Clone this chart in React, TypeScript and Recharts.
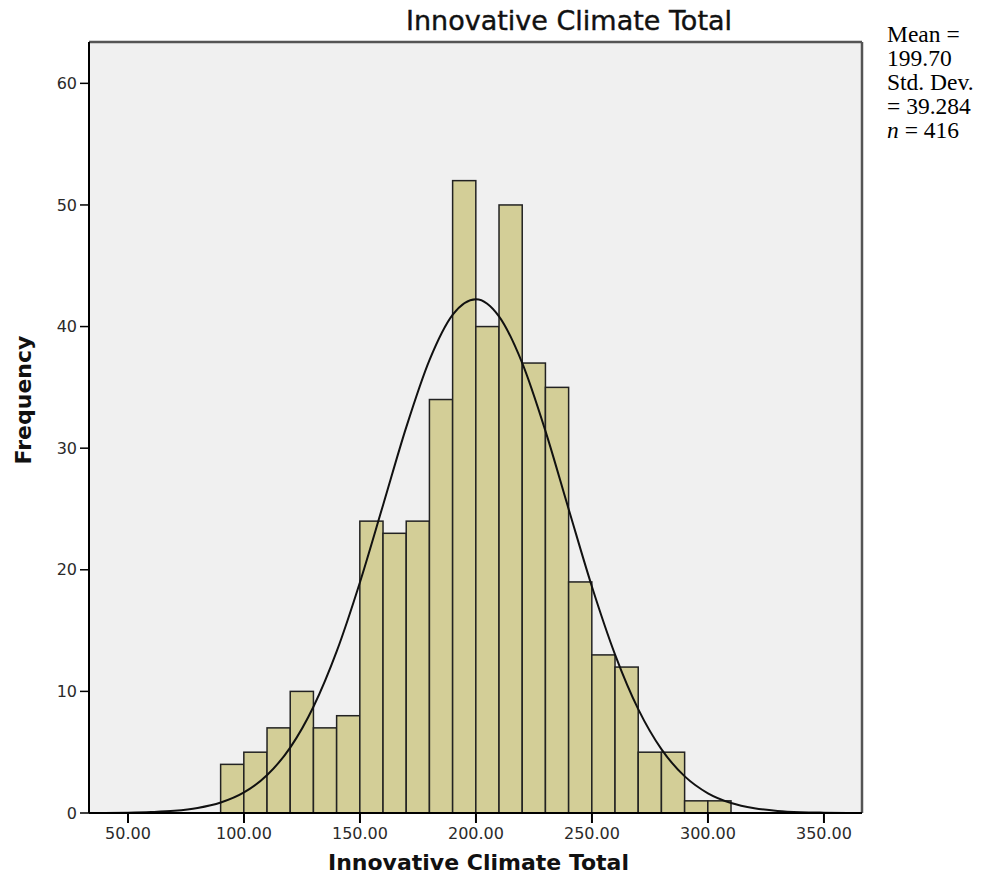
import React from 'react';
import { ComposedChart, Bar, Line, XAxis, YAxis, CartesianGrid, ReferenceLine } from 'recharts';

const binCenters = [95, 105, 115, 125, 135, 145, 155, 165, 175, 185, 195, 205, 215, 225, 235, 245, 255, 265, 275, 285, 295, 305];
const frequencies = [4, 5, 7, 10, 7, 8, 24, 23, 24, 34, 52, 40, 50, 37, 35, 19, 13, 12, 5, 5, 1, 1];
const curveX = [40, 50, 60, 70, 80, 90, 100, 110, 120, 130, 140, 150, 160, 170, 180, 190, 200, 210, 220, 230, 240, 250, 260, 270, 280, 290, 300, 310, 320, 330, 340, 350, 360];
const curveY = [0.01, 0.03, 0.08, 0.18, 0.41, 0.86, 1.69, 3.12, 5.4, 8.76, 13.31, 18.98, 25.35, 31.75, 37.26, 40.98, 42.25, 40.82, 36.97, 31.38, 24.96, 18.61, 13.01, 8.52, 5.23, 3.01, 1.62, 0.82, 0.39, 0.17, 0.07, 0.03, 0.01];
const xTicks = [50, 100, 150, 200, 250, 300, 350];
const yTicks = [0, 10, 20, 30, 40, 50, 60];
const statLines = ['Mean =', '199.70', 'Std. Dev.', '= 39.284'];

const barData = binCenters.map((x, i) => ({ x, freq: frequencies[i] }));
const curveData = curveX.map((x, i) => ({ x, curve: curveY[i] }));

const W = 1000;
const H = 890;
const yAxisW = 50;
const xAxisH = 40;
const margin = { top: 42, right: 138, bottom: 77 - xAxisH, left: 89 - yAxisW };
const xDomain: [number, number] = [33.2, 366.4];
const yDomain: [number, number] = [0, 63.4];
const binWidth = 10;
const plotW = W - 89 - margin.right;
const barPx = (binWidth * plotW) / (xDomain[1] - xDomain[0]);

const tickStyle = { fontFamily: 'DejaVu Sans', fontSize: 16, fill: '#2a2a2a' };

const BinRect = (props: any) => {
  const { x, y, width, height } = props;
  if (height == null || height <= 0) return null;
  const cx = x + width / 2;
  return <rect x={cx - barPx / 2} y={y} width={barPx} height={height} fill="#d3ce97" stroke="#222" strokeWidth={1.5} />;
};

export default function App() {
  return (
    <div style={{ position: 'absolute', left: 0, top: 0, width: W, height: H, background: '#fff' }}>
      <ComposedChart width={W} height={H} data={barData} margin={margin}>
        <CartesianGrid fill="#f0f0f0" horizontal={false} vertical={false} />
        <XAxis
          dataKey="x"
          type="number"
          domain={xDomain}
          ticks={xTicks}
          allowDataOverflow
          height={xAxisH}
          tickSize={10}
          tickMargin={5}
          tickFormatter={(v: number) => v.toFixed(2)}
          tick={tickStyle}
          axisLine={{ stroke: '#000', strokeWidth: 2 }}
          tickLine={{ stroke: '#000', strokeWidth: 2 }}
        />
        <YAxis
          type="number"
          domain={yDomain}
          ticks={yTicks}
          allowDataOverflow
          width={yAxisW}
          tickSize={9}
          tickMargin={3}
          tick={tickStyle}
          axisLine={{ stroke: '#000', strokeWidth: 2 }}
          tickLine={{ stroke: '#000', strokeWidth: 1.5 }}
        />
        <ReferenceLine y={yDomain[1]} stroke="#555" strokeWidth={2.5} ifOverflow="visible" />
        <ReferenceLine x={xDomain[1]} stroke="#555" strokeWidth={2.5} ifOverflow="visible" />
        <Bar dataKey="freq" shape={BinRect} isAnimationActive={false} />
        <Line data={curveData} dataKey="curve" type="monotone" stroke="#111" strokeWidth={2} dot={false} isAnimationActive={false} />
      </ComposedChart>
      <div style={{ position: 'absolute', left: 403, top: 5, width: 332, textAlign: 'center', fontFamily: 'DejaVu Sans', fontSize: 27, color: '#111', whiteSpace: 'nowrap', WebkitTextStroke: '0.4px #111' }}>
        Innovative Climate Total
      </div>
      <div style={{ position: 'absolute', left: 320, top: 850, width: 317, textAlign: 'center', fontFamily: 'DejaVu Sans', fontWeight: 'bold', fontSize: 22, color: '#111', whiteSpace: 'nowrap' }}>
        Innovative Climate Total
      </div>
      <div style={{ position: 'absolute', left: 23, top: 400, transform: 'translate(-50%, -50%) rotate(-90deg)', fontFamily: 'DejaVu Sans', fontWeight: 'bold', fontSize: 22, color: '#111', whiteSpace: 'nowrap' }}>
        Frequency
      </div>
      <div style={{ position: 'absolute', left: 887, top: 22, fontFamily: 'Liberation Serif', fontSize: 23.5, lineHeight: '24px', color: '#000' }}>
        {statLines.map((s) => (
          <div key={s}>{s}</div>
        ))}
        <div><i>n</i> = 416</div>
      </div>
    </div>
  );
}
